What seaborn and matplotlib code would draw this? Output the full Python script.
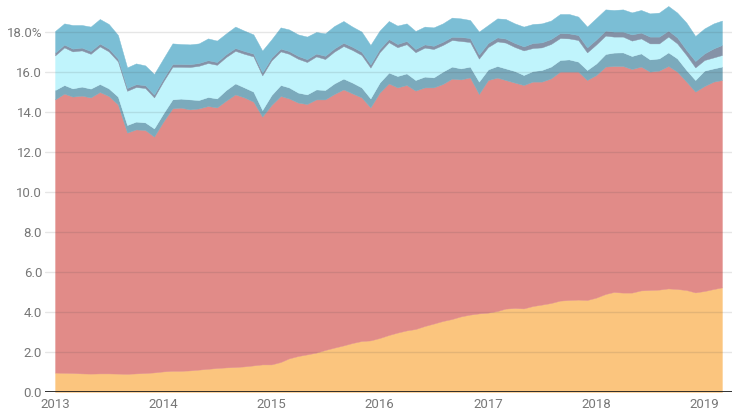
import pandas as pd
import matplotlib.pyplot as plt
import seaborn as sns

# Monthly data, Jan 2013 .. Mar 2019 (75 months), stacked layers bottom -> top
months = pd.date_range("2013-01-01", "2019-03-01", freq="MS")

orange = [0.97, 0.96, 0.95, 0.93, 0.92, 0.93, 0.93, 0.92, 0.91, 0.93, 0.95, 0.98,
          1.03, 1.06, 1.06, 1.08, 1.12, 1.16, 1.20, 1.23, 1.25, 1.28, 1.33, 1.38,
          1.38, 1.50, 1.68, 1.80, 1.88, 1.97, 2.10, 2.22, 2.33, 2.45, 2.55, 2.58,
          2.70, 2.85, 2.97, 3.08, 3.15, 3.30, 3.42, 3.55, 3.65, 3.78, 3.87, 3.93,
          3.97, 4.05, 4.17, 4.20, 4.18, 4.30, 4.37, 4.45, 4.57, 4.60, 4.62, 4.60,
          4.72, 4.90, 5.00, 4.97, 4.97, 5.08, 5.10, 5.12, 5.18, 5.15, 5.10, 4.98,
          5.05, 5.15, 5.23]
red = [13.66, 13.96, 13.82, 13.89, 13.81, 14.07, 13.87, 13.46, 12.06, 12.20, 12.15, 11.79,
       12.49, 13.12, 13.16, 13.05, 13.06, 13.14, 13.03, 13.34, 13.63, 13.45, 13.19, 12.39,
       12.97, 13.30, 13.00, 12.67, 12.52, 12.66, 12.53, 12.68, 12.80, 12.48, 12.18, 11.65,
       12.27, 12.58, 12.26, 12.27, 11.92, 11.93, 11.81, 11.85, 12.02, 11.85, 11.86, 10.97,
       11.63, 11.67, 11.43, 11.27, 11.17, 11.22, 11.15, 11.23, 11.45, 11.42, 11.40, 11.00,
       11.13, 11.37, 11.30, 11.33, 11.18, 11.19, 10.92, 10.95, 11.12, 10.87, 10.42, 10.04,
       10.25, 10.37, 10.37]
steel = [0.47, 0.43, 0.41, 0.45, 0.44, 0.40, 0.38, 0.39, 0.38, 0.39, 0.38, 0.41,
         0.41, 0.45, 0.45, 0.50, 0.42, 0.45, 0.45, 0.53, 0.55, 0.50, 0.50, 0.33,
         0.50, 0.55, 0.55, 0.50, 0.48, 0.50, 0.47, 0.53, 0.54, 0.54, 0.50, 0.45,
         0.50, 0.54, 0.57, 0.58, 0.53, 0.54, 0.50, 0.62, 0.60, 0.55, 0.54, 0.62,
         0.53, 0.58, 0.58, 0.58, 0.50, 0.53, 0.58, 0.59, 0.58, 0.61, 0.50, 0.50,
         0.58, 0.63, 0.67, 0.68, 0.65, 0.66, 0.61, 0.61, 0.68, 0.66, 0.58, 0.58,
         0.77, 0.66, 0.67]
cyan = [1.73, 1.88, 1.85, 1.81, 1.74, 1.88, 1.85, 1.76, 1.71, 1.73, 1.72, 1.55,
        1.60, 1.63, 1.59, 1.62, 1.71, 1.70, 1.68, 1.65, 1.63, 1.68, 1.76, 1.73,
        1.73, 1.68, 1.68, 1.69, 1.62, 1.65, 1.55, 1.59, 1.63, 1.63, 1.62, 1.54,
        1.52, 1.52, 1.44, 1.46, 1.39, 1.45, 1.42, 1.33, 1.33, 1.37, 1.23, 1.15,
        1.12, 1.23, 1.29, 1.20, 1.23, 1.15, 1.13, 1.13, 1.10, 1.05, 1.08, 0.88,
        0.95, 0.92, 0.80, 0.79, 0.77, 0.75, 0.80, 0.75, 0.79, 0.75, 0.75, 0.63,
        0.53, 0.55, 0.58]
slate = [0.14] * 30 + [0.16] * 15 + [0.20] * 8 + [0.25] * 7 + \
        [0.25, 0.25, 0.25, 0.25, 0.31, 0.29, 0.34, 0.34, 0.30, 0.30, 0.25, 0.32,
         0.33, 0.45, 0.50]
blue = [1.08, 1.06, 1.18, 1.13, 1.22, 1.23, 1.23, 1.18, 1.03, 1.04, 0.99, 1.03,
        1.00, 1.03, 1.00, 0.99, 0.98, 1.09, 1.07, 1.04, 1.07, 1.02, 0.96, 1.10,
        0.91, 1.06, 1.08, 1.08, 1.13, 1.08, 1.12, 1.12, 1.09, 1.01, 1.01, 0.97,
        0.92, 0.90, 0.92, 0.88, 0.90, 0.89, 0.92, 0.92, 0.96, 0.93, 0.90, 1.15,
        0.90, 0.95, 0.98, 0.98, 0.99, 0.95, 0.95, 0.92, 0.95, 0.97, 0.92, 1.04,
        1.07, 1.06, 1.08, 1.11, 1.10, 1.13, 1.16, 1.20, 1.23, 1.24, 1.37, 1.25,
        1.25, 1.25, 1.22]

layer_colors = ["#FBC57E", "#E18B88", "#7BAABC", "#C0F4FC", "#8592A7", "#7BBED5"]
y_ticks = [0, 2, 4, 6, 8, 10, 12, 14, 16, 18]
y_labels = ["0.0", "2.0", "4.0", "6.0", "8.0", "10.0", "12.0", "14.0", "16.0", "18.0%"]
years = [2013, 2014, 2015, 2016, 2017, 2018, 2019]

sns.set_style("white")
plt.rcParams["font.family"] = ["Roboto", "DejaVu Sans"]

fig = plt.figure(figsize=(7.39, 4.19), dpi=100)
ax = fig.add_axes([45 / 739, 27 / 419, 687 / 739, 392 / 419])

ax.stackplot(months, orange, red, steel, cyan, slate, blue,
             colors=sns.color_palette(layer_colors), linewidth=0.3,
             edgecolor="face")

ax.set_xlim(pd.Timestamp("2012-11-28"), pd.Timestamp("2019-04-04"))
ax.set_ylim(0, 19.6)
ax.set_yticks(y_ticks)
ax.set_yticklabels(y_labels)
ax.set_xticks([pd.Timestamp(f"{y}-01-01") for y in years])
ax.set_xticklabels([str(y) for y in years])

# grid drawn over the areas, but faint
ax.set_axisbelow(False)
ax.grid(axis="y", color="#444444", alpha=0.13, linewidth=1)
ax.grid(axis="x", visible=False)
ax.axhline(0, color="#222222", linewidth=1.3, zorder=3)
sns.despine(ax=ax, left=True, bottom=True)

ax.tick_params(axis="both", length=0, labelsize=9.5, labelcolor="#777777")
ax.tick_params(axis="y", pad=2)
ax.tick_params(axis="x", pad=4)

fig.savefig("out.png", dpi=100)
